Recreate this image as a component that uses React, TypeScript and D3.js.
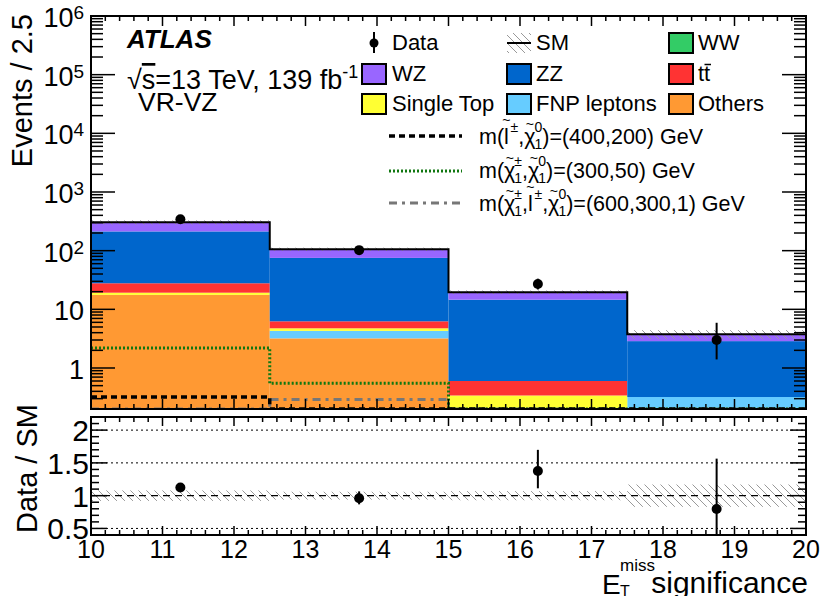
import * as d3 from "d3";
import React from "react";

// bin edges of the E_T^miss significance histogram
const binEdges = [10, 12.5, 15, 17.5, 20];
const binCentres = [11.25, 13.75, 16.25, 18.75];

// stacked SM backgrounds, bottom to top
const others = [17.6, 3.2, 0.05, 0.02];
const fnp = [0.02, 1.1, 0.01, 0.3];
const singleTop = [1.6, 0.45, 0.28, 0.0];
const ttbar = [8.6, 1.5, 0.26, 0.0];
const zz = [185, 69, 14.0, 2.55];
const wz = [90, 30, 4.9, 0.85];
const ww = [1.5, 0.8, 0.1, 0.05];

// relative SM uncertainty per bin
const smRelUnc = [0.08, 0.06, 0.07, 0.17];

// data
const dataCounts = [342, 102, 27, 3];
const dataErrUp = [19, 11, 6.3, 2.9];
const dataErrDown = [18, 10, 5.2, 1.6];

// signal benchmarks (values under 0.2 sit on the lower frame)
const sigSlepton = [0.32, 0.15, 0.1, 0.1];
const sigC1C1 = [2.2, 0.55, 0.1, 0.1];
const sigC1Slep = [0.19, 0.29, 0.1, 0.1];

const keys = ["others", "fnp", "singleTop", "ttbar", "zz", "wz", "ww"];
const colors: Record<string, string> = {
  others: "#ff9933",
  fnp: "#66ccff",
  singleTop: "#ffff33",
  ttbar: "#ff3333",
  zz: "#0066cc",
  wz: "#9966ff",
  ww: "#33cc66",
};

const mainYTicks = [1, 10, 100, 1e3, 1e4, 1e5, 1e6];
const ratioYLabels = [0.5, 1, 1.5, 2];
const xLabels = [10, 11, 12, 13, 14, 15, 16, 17, 18, 19, 20];

const W = 830;
const H = 596;
const L = 91;
const R = 806;
const mainTop = 16;
const mainBot = 409;
const ratTop = 417;
const ratBot = 535;
const FONT = "'Liberation Sans', Arial, Helvetica, sans-serif";

// pieces of a ROOT-like latex label: text, size, baseline offset, extra dx
type Seg = { s: string; size?: number; y: number; dx?: number };

const SS = 14; // sup/sub size
const CHI_W = 11;
const L_W = 4.9;
const TIL_W = 8.2;
const SUP_W = 7.8;

const chi = (sup: string, sub: string): Seg[] => [
  { s: "χ", y: 0 },
  { s: "~", size: SS, y: -15, dx: -(CHI_W + TIL_W) / 2 },
  { s: sup, size: SS, y: -12, dx: (CHI_W - TIL_W) / 2 - 1 },
  { s: sub, size: SS, y: 5, dx: -SUP_W },
];
const slep = (): Seg[] => [
  { s: "l", y: 0 },
  { s: "~", size: SS, y: -19, dx: -(L_W + TIL_W) / 2 },
  { s: "±", size: SS, y: -12, dx: 0 },
];

const Latex: React.FC<{ x: number; y: number; size: number; segs: Seg[] }> = ({
  x,
  y,
  size,
  segs,
}) => {
  let cur = 0;
  return (
    <text x={x} y={y} fontSize={size} fontFamily={FONT} fill="#000">
      {segs.map((g, i) => {
        const dy = g.y - cur;
        cur = g.y;
        return (
          <tspan key={i} dx={g.dx || 0} dy={dy} fontSize={g.size || size}>
            {g.s}
          </tspan>
        );
      })}
    </text>
  );
};

const App: React.FC = () => {
  const x = d3.scaleLinear().domain([10, 20]).range([L, R]);
  const y = d3.scaleLog().domain([0.2, 1e6]).range([mainBot, mainTop]).clamp(true);
  const yr = d3.scaleLinear().domain([0.4, 2.2]).range([ratBot, ratTop]).clamp(true);

  const rows = binCentres.map((_, i) => ({
    others: others[i],
    fnp: fnp[i],
    singleTop: singleTop[i],
    ttbar: ttbar[i],
    zz: zz[i],
    wz: wz[i],
    ww: ww[i],
  }));
  const series = d3.stack<any>().keys(keys)(rows);
  const smTotal = rows.map((r: any) => d3.sum(keys, (k) => r[k]));

  const stepPts = (vals: number[]) =>
    binEdges.map((e, i) => [e, vals[Math.min(i, vals.length - 1)]] as [number, number]);
  const step = d3
    .line<[number, number]>()
    .x((d) => x(d[0]))
    .y((d) => y(d[1]))
    .curve(d3.curveStepAfter);

  const isInt = (v: number) => Math.abs(v - Math.round(v)) < 1e-9;
  const logTicks = y.ticks();
  const xTicks = x.ticks(50);
  const rTicks = yr.ticks(18);

  const ratio = dataCounts.map((d, i) => d / smTotal[i]);

  const txt = { fontFamily: FONT, fill: "#000" } as const;

  const box = (bx: number, by: number, key: string) => (
    <rect x={bx} y={by} width={24} height={20} fill={colors[key]} stroke="#000" strokeWidth={2} />
  );

  return (
    <svg
      width={W}
      height={H}
      style={{ position: "absolute", left: 0, top: 0, background: "#fff" }}
    >
      <defs>
        <pattern id="hatch" width={8} height={8} patternUnits="userSpaceOnUse">
          <path d="M-2,-2 L10,10 M-2,6 L2,10 M6,-2 L10,2" stroke="#999" strokeWidth={1} />
        </pattern>
        <clipPath id="clipMain">
          <rect x={L} y={mainTop} width={R - L} height={mainBot - mainTop} />
        </clipPath>
        <clipPath id="clipRatio">
          <rect x={L} y={ratTop} width={R - L} height={ratBot - ratTop} />
        </clipPath>
      </defs>
      <rect x={0} y={0} width={W} height={H} fill="#fff" />

      {/* ---------- main panel ---------- */}
      <g clipPath="url(#clipMain)">
        {series.map((s) => (
          <g key={s.key}>
            {s.map((d, i) => (
              <rect
                key={i}
                x={x(binEdges[i])}
                width={x(binEdges[i + 1]) - x(binEdges[i])}
                y={y(d[1])}
                height={Math.max(0, y(Math.max(d[0], 0.01)) - y(d[1]))}
                fill={colors[s.key]}
              />
            ))}
          </g>
        ))}
        {smTotal.map((t, i) => (
          <rect
            key={i}
            x={x(binEdges[i])}
            width={x(binEdges[i + 1]) - x(binEdges[i])}
            y={y(t * (1 + smRelUnc[i]))}
            height={y(t * (1 - smRelUnc[i])) - y(t * (1 + smRelUnc[i]))}
            fill="url(#hatch)"
          />
        ))}
        <path d={step(stepPts(smTotal)) || ""} fill="none" stroke="#000" strokeWidth={2} />
        <path
          d={step(stepPts(sigC1Slep)) || ""}
          fill="none"
          stroke="#777"
          strokeWidth={3}
          strokeDasharray="8 5 3 5"
        />
        <path
          d={step(stepPts(sigC1C1)) || ""}
          fill="none"
          stroke="#117711"
          strokeWidth={3}
          strokeDasharray="2 2"
        />
        <path
          d={step(stepPts(sigSlepton)) || ""}
          fill="none"
          stroke="#000"
          strokeWidth={3.5}
          strokeDasharray="6 4"
        />
        {binCentres.map((c, i) => (
          <g key={i}>
            <line
              x1={x(c)}
              x2={x(c)}
              y1={y(dataCounts[i] + dataErrUp[i])}
              y2={y(dataCounts[i] - dataErrDown[i])}
              stroke="#000"
              strokeWidth={2}
            />
            <circle cx={x(c)} cy={y(dataCounts[i])} r={5} fill="#000" />
          </g>
        ))}
      </g>

      {/* main axes */}
      {logTicks.map((t, i) => {
        const maj = isInt(Math.log10(t));
        const len = maj ? 24 : 12;
        return (
          <g key={i} stroke="#000" strokeWidth={1.5}>
            <line x1={L} x2={L + len} y1={y(t)} y2={y(t)} />
            <line x1={R} x2={R - len} y1={y(t)} y2={y(t)} />
          </g>
        );
      })}
      {xTicks.map((t, i) => {
        const len = isInt(t) ? 10 : 5;
        return (
          <g key={i} stroke="#000" strokeWidth={1.5}>
            <line x1={x(t)} x2={x(t)} y1={mainBot} y2={mainBot - len} />
            <line x1={x(t)} x2={x(t)} y1={mainTop} y2={mainTop + len} />
          </g>
        );
      })}
      <rect
        x={L}
        y={mainTop}
        width={R - L}
        height={mainBot - mainTop}
        fill="none"
        stroke="#000"
        strokeWidth={2}
      />
      {mainYTicks.map((t) => {
        const n = Math.round(Math.log10(t));
        return (
          <text key={t} x={84} y={y(t) + 11} textAnchor="end" fontSize={27} {...txt}>
            {n === 0 ? "1" : "10"}
            {n >= 2 && (
              <tspan dy={-8} fontSize={19}>
                {n}
              </tspan>
            )}
          </text>
        );
      })}
      <text
        transform={`translate(32,${mainTop - 2}) rotate(-90)`}
        textAnchor="end"
        fontSize={29}
        {...txt}
      >
        Events / 2.5
      </text>

      {/* labels */}
      <text x={127} y={48} fontSize={26} fontWeight="bold" fontStyle="italic" {...txt}>
        ATLAS
      </text>
      <text x={127} y={89} fontSize={27} {...txt}>
        √<tspan textDecoration="overline">s</tspan>=13 TeV, 139 fb
        <tspan dy={-11} fontSize={18}>
          -1
        </tspan>
      </text>
      <text x={138} y={111} fontSize={26.5} {...txt}>
        VR-VZ
      </text>

      {/* legend */}
      <g>
        <line x1={374} x2={374} y1={32} y2={53} stroke="#000" strokeWidth={2} />
        <circle cx={374} cy={43} r={4.5} fill="#000" />
        <text x={392} y={50} fontSize={22} {...txt}>Data</text>
        <rect x={507} y={33} width={24} height={20} fill="url(#hatch)" />
        <line x1={507} x2={531} y1={43} y2={43} stroke="#000" strokeWidth={2} />
        <text x={536} y={50} fontSize={22} {...txt}>SM</text>
        {box(669, 33, "ww")}
        <text x={698} y={50} fontSize={22} {...txt}>WW</text>

        {box(362, 64, "wz")}
        <text x={392} y={81} fontSize={22} {...txt}>WZ</text>
        {box(507, 64, "zz")}
        <text x={536} y={81} fontSize={22} {...txt}>ZZ</text>
        {box(669, 64, "ttbar")}
        <text x={698} y={81} fontSize={22} {...txt}>tt</text>
        <line x1={704.5} x2={711} y1={64.5} y2={64.5} stroke="#000" strokeWidth={1.5} />

        {box(362, 94, "singleTop")}
        <text x={392} y={111} fontSize={22} {...txt}>Single Top</text>
        {box(507, 94, "fnp")}
        <text x={536} y={111} fontSize={22} {...txt}>FNP leptons</text>
        {box(669, 94, "others")}
        <text x={698} y={111} fontSize={22} {...txt}>Others</text>

        <line x1={389} x2={462} y1={136} y2={136} stroke="#000" strokeWidth={3.5} strokeDasharray="6 4" />
        <Latex
          x={479}
          y={144}
          size={21.5}
          segs={[
            { s: "m(", y: 0 },
            ...slep(),
            { s: ",", y: 0, dx: 0 },
            ...chi("0", "1"),
            { s: ")=(400,200) GeV", y: 0, dx: 0 },
          ]}
        />

        <line x1={389} x2={462} y1={171} y2={171} stroke="#117711" strokeWidth={3} strokeDasharray="2 2" />
        <Latex
          x={479}
          y={178}
          size={21.5}
          segs={[
            { s: "m(", y: 0 },
            ...chi("±", "1"),
            { s: ",", y: 0, dx: 0 },
            ...chi("0", "1"),
            { s: ")=(300,50) GeV", y: 0, dx: 0 },
          ]}
        />

        <line x1={389} x2={462} y1={203} y2={203} stroke="#777" strokeWidth={3} strokeDasharray="8 5 3 5" />
        <Latex
          x={479}
          y={211}
          size={21.5}
          segs={[
            { s: "m(", y: 0 },
            ...chi("±", "1"),
            { s: ",", y: 0, dx: 0 },
            ...slep(),
            { s: ",", y: 0, dx: 0 },
            ...chi("0", "1"),
            { s: ")=(600,300,1) GeV", y: 0, dx: 0 },
          ]}
        />
      </g>

      {/* ---------- ratio panel ---------- */}
      <g clipPath="url(#clipRatio)">
        {smRelUnc.map((u, i) => (
          <rect
            key={i}
            x={x(binEdges[i])}
            width={x(binEdges[i + 1]) - x(binEdges[i])}
            y={yr(1 + u)}
            height={yr(1 - u) - yr(1 + u)}
            fill="url(#hatch)"
          />
        ))}
        {[0.5, 1.5, 2].map((g) => (
          <line key={g} x1={L} x2={R} y1={yr(g)} y2={yr(g)} stroke="#000" strokeWidth={1} strokeDasharray="2 3" />
        ))}
        <line x1={L} x2={R} y1={yr(1)} y2={yr(1)} stroke="#000" strokeWidth={1.2} strokeDasharray="7 5" />
        {binCentres.map((c, i) => (
          <g key={i}>
            <line
              x1={x(c)}
              x2={x(c)}
              y1={yr(ratio[i] + dataErrUp[i] / smTotal[i])}
              y2={yr(ratio[i] - dataErrDown[i] / smTotal[i])}
              stroke="#000"
              strokeWidth={2}
            />
            <circle cx={x(c)} cy={yr(ratio[i])} r={5} fill="#000" />
          </g>
        ))}
      </g>
      {rTicks.map((t, i) => {
        const len = isInt(t * 2) ? 16 : 8;
        return (
          <g key={i} stroke="#000" strokeWidth={1.5}>
            <line x1={L} x2={L + len} y1={yr(t)} y2={yr(t)} />
            <line x1={R} x2={R - len} y1={yr(t)} y2={yr(t)} />
          </g>
        );
      })}
      {xTicks.map((t, i) => {
        const len = isInt(t) ? 9 : 5;
        return (
          <g key={i} stroke="#000" strokeWidth={1.5}>
            <line x1={x(t)} x2={x(t)} y1={ratBot} y2={ratBot - len} />
            <line x1={x(t)} x2={x(t)} y1={ratTop} y2={ratTop + len} />
          </g>
        );
      })}
      <rect
        x={L}
        y={ratTop}
        width={R - L}
        height={ratBot - ratTop}
        fill="none"
        stroke="#000"
        strokeWidth={2}
      />
      {ratioYLabels.map((t) => (
        <text key={t} x={89} y={yr(t) + 11} textAnchor="end" fontSize={30} {...txt}>
          {t}
        </text>
      ))}
      <text transform={`translate(37,533) rotate(-90)`} fontSize={29} {...txt}>
        Data / SM
      </text>
      {xLabels.map((t) => (
        <text key={t} x={x(t)} y={558} textAnchor="middle" fontSize={25} {...txt}>
          {t}
        </text>
      ))}
      <text x={602} y={594} fontSize={28} {...txt}>E</text>
      <text x={620} y={571} fontSize={17} {...txt}>miss</text>
      <text x={620} y={597} fontSize={16} {...txt}>T</text>
      <text x={808} y={593} textAnchor="end" fontSize={30} {...txt}>
        significance
      </text>
    </svg>
  );
};

export default App;
